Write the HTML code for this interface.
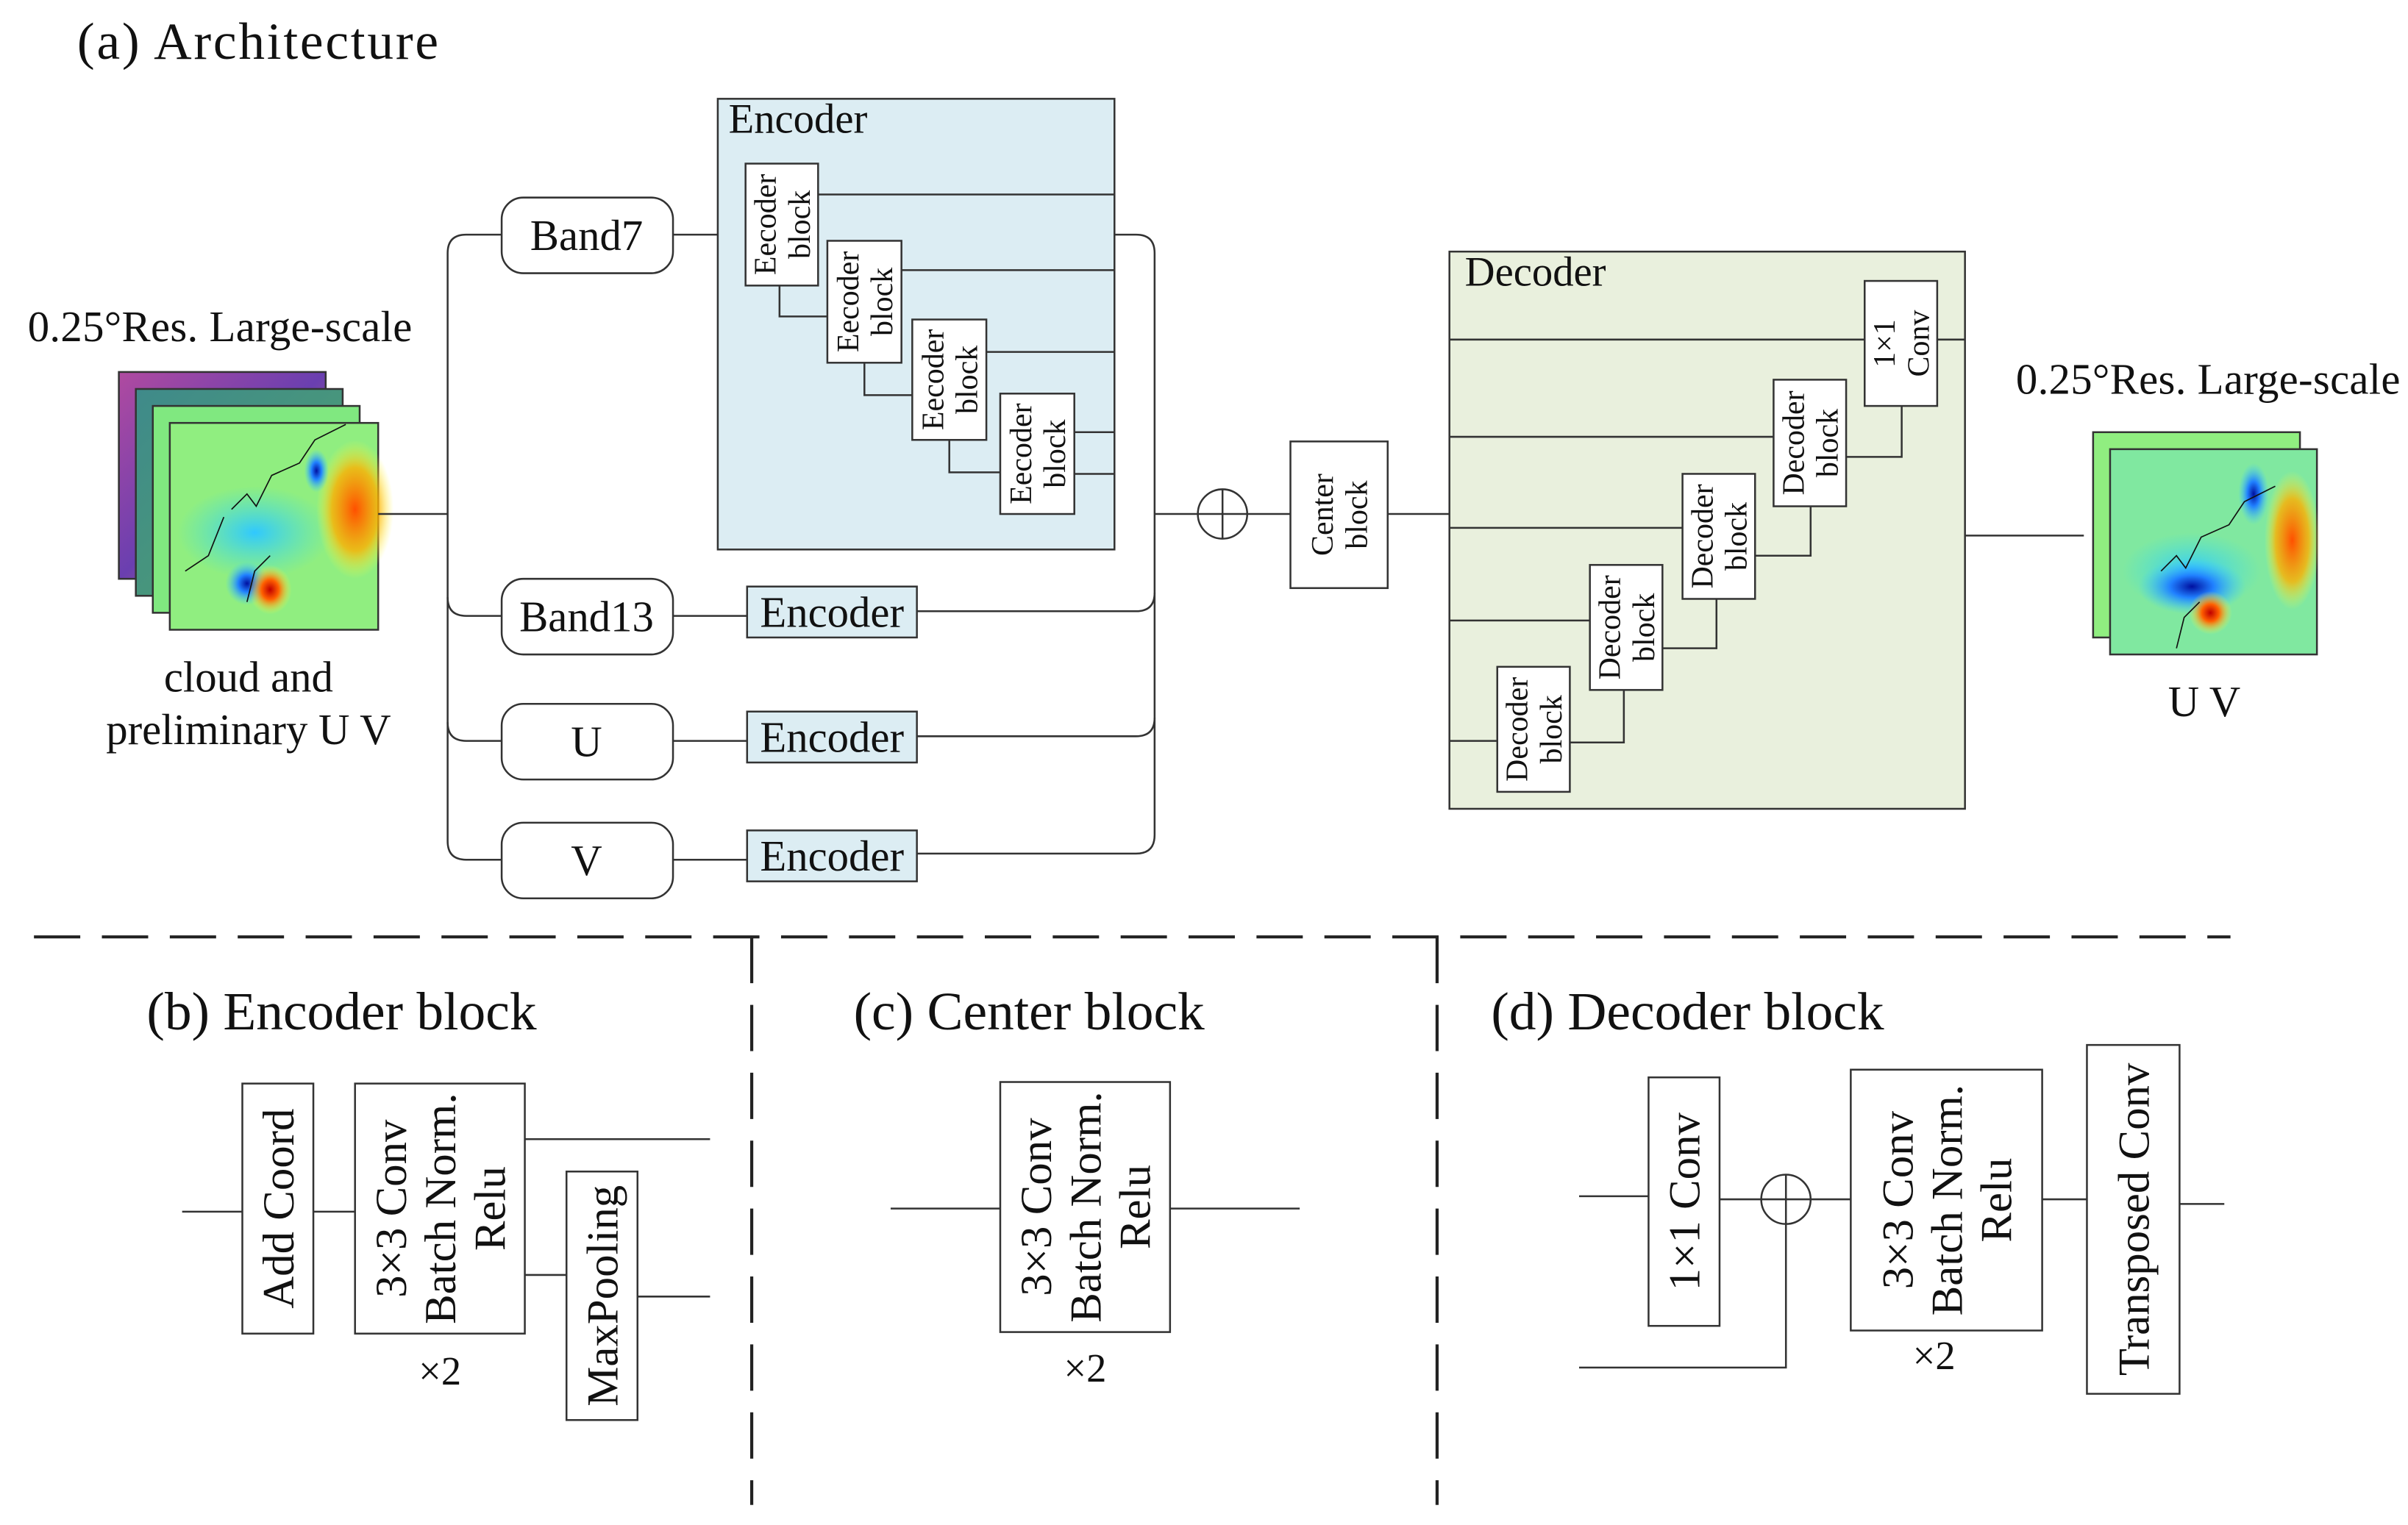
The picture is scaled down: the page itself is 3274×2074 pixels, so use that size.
<!DOCTYPE html>
<html><head><meta charset="utf-8"><style>
html,body{margin:0;padding:0;background:#fff;}
svg{display:block;}
text{font-family:"Liberation Serif",serif;fill:#111;}
</style></head><body>
<svg width="3274" height="2074" viewBox="0 0 1560 988" preserveAspectRatio="none" xmlns="http://www.w3.org/2000/svg">
<defs>
<linearGradient id="gp" x1="0" y1="0" x2="1" y2="1"><stop offset="0" stop-color="#b04aa0"/><stop offset="0.5" stop-color="#6a3fb0"/><stop offset="1" stop-color="#e08050"/></linearGradient>
<linearGradient id="gt" x1="0" y1="0" x2="1" y2="1"><stop offset="0" stop-color="#3f8a8a"/><stop offset="1" stop-color="#4fa070"/></linearGradient>
<radialGradient id="rr" cx="0.5" cy="0.5" r="0.5"><stop offset="0" stop-color="#c00000"/><stop offset="0.4" stop-color="#ff6000"/><stop offset="1" stop-color="#ffff40" stop-opacity="0"/></radialGradient>
<radialGradient id="rb" cx="0.5" cy="0.5" r="0.5"><stop offset="0" stop-color="#0010a0"/><stop offset="0.4" stop-color="#2080ff"/><stop offset="1" stop-color="#40d0ff" stop-opacity="0"/></radialGradient>
<radialGradient id="ro" cx="0.5" cy="0.5" r="0.5"><stop offset="0" stop-color="#ff5000"/><stop offset="0.6" stop-color="#ffb000" stop-opacity="0.8"/><stop offset="1" stop-color="#ffff40" stop-opacity="0"/></radialGradient>
<radialGradient id="rc" cx="0.5" cy="0.5" r="0.5"><stop offset="0" stop-color="#30c8ff"/><stop offset="1" stop-color="#40e0e0" stop-opacity="0"/></radialGradient>
</defs>
<g stroke="#333" stroke-width="1.2" fill="none">
<rect x="77" y="241" width="134" height="134" fill="url(#gp)"/>
<rect x="88" y="252" width="134" height="134" fill="url(#gt)"/>
<rect x="99" y="263" width="134" height="134" fill="#80e880"/>
<rect x="110" y="274" width="135" height="134" fill="#90ee80"/>
</g>
<ellipse cx="165" cy="345" rx="50" ry="30" fill="url(#rc)"/>
<ellipse cx="230" cy="330" rx="25" ry="45" fill="url(#ro)"/>
<ellipse cx="160" cy="378" rx="14" ry="14" fill="url(#rb)"/>
<ellipse cx="175" cy="382" rx="14" ry="16" fill="url(#rr)"/>
<ellipse cx="205" cy="305" rx="8" ry="14" fill="url(#rb)"/>
<path d="M150 330 l10 -10 l6 8 l10 -20 l18 -8 l10 -15 l20 -10 M160 390 l5 -20 l10 -10 M120 370 l15 -10 l10 -25" stroke="#111" stroke-width="0.8" fill="none"/>
<g stroke="#333" stroke-width="1.2">
<rect x="1356" y="280" width="134" height="133" fill="#90ee80"/>
<rect x="1367" y="291" width="134" height="133" fill="#80e8a0"/>
</g>
<ellipse cx="1420" cy="370" rx="45" ry="25" fill="url(#rc)"/>
<ellipse cx="1420" cy="380" rx="35" ry="18" fill="url(#rb)"/>
<ellipse cx="1485" cy="350" rx="18" ry="45" fill="url(#ro)"/>
<ellipse cx="1432" cy="397" rx="14" ry="14" fill="url(#rr)"/>
<ellipse cx="1460" cy="320" rx="10" ry="20" fill="url(#rb)"/>
<path d="M1400 370 l10 -10 l6 8 l10 -20 l18 -8 l10 -15 l20 -10 M1410 420 l5 -20 l10 -10" stroke="#111" stroke-width="0.8" fill="none"/>

<text x="50" y="38" font-size="34" textLength="234">(a)  Architecture</text>
<text x="18" y="221" font-size="28" textLength="249">0.25°Res. Large-scale</text>
<text x="161" y="448" font-size="28" text-anchor="middle">cloud and</text>
<text x="161" y="482" font-size="28" text-anchor="middle">preliminary U V</text>
<text x="1306" y="255" font-size="28" textLength="249">0.25°Res. Large-scale</text>
<text x="1428" y="464" font-size="28" text-anchor="middle">U V</text>

<g stroke="#333" stroke-width="1.2" fill="none">
<rect x="465" y="64" width="257" height="292" fill="#dcedf3"/>
<rect x="939" y="163" width="334" height="361" fill="#e9f0dd"/>
<path d="M245 333 H290"/>
<path d="M325 152 H302 Q290 152 290 164 V545 Q290 557 302 557 H325"/>
<path d="M290 387 Q290 399 302 399 H325"/>
<path d="M290 468 Q290 480 302 480 H325"/>
<rect x="325" y="128" width="111" height="49" rx="14" fill="#fff"/>
<rect x="325" y="375" width="111" height="49" rx="14" fill="#fff"/>
<rect x="325" y="456" width="111" height="49" rx="14" fill="#fff"/>
<rect x="325" y="533" width="111" height="49" rx="14" fill="#fff"/>
<path d="M436 152 H465 M436 399 H484 M436 480 H484 M436 557 H484"/>
<rect x="484" y="380" width="110" height="33" fill="#dcedf3"/>
<rect x="484" y="461" width="110" height="33" fill="#dcedf3"/>
<rect x="484" y="538" width="110" height="33" fill="#dcedf3"/>
<path d="M722 152 H736 Q748 152 748 164 V541 Q748 553 736 553 H594"/>
<path d="M594 396 H736 Q748 396 748 384"/>
<path d="M594 477 H736 Q748 477 748 465"/>
<path d="M748 333 H776"/>
<circle cx="792" cy="333" r="16" fill="#fff"/>
<path d="M792 317 V349 M776 333 H808"/>
<path d="M808 333 H836"/>
<rect x="836" y="286" width="63" height="95" fill="#fff"/>
<path d="M899 333 H939"/>
<path d="M1273 347 H1350"/>
<rect x="483" y="106" width="47" height="79" fill="#fff"/>
<rect x="536" y="156" width="48" height="79" fill="#fff"/>
<rect x="591" y="207" width="48" height="78" fill="#fff"/>
<rect x="648" y="255" width="48" height="78" fill="#fff"/>
<path d="M530 126 H722 M584 175 H722 M639 228 H722 M696 307 H722 M696 280 H722"/>
<path d="M505 185 V205 H536 M560 235 V256 H591 M615 285 V306 H648"/>
<rect x="1208" y="182" width="47" height="81" fill="#fff"/>
<rect x="1149" y="246" width="47" height="82" fill="#fff"/>
<rect x="1090" y="307" width="47" height="81" fill="#fff"/>
<rect x="1030" y="366" width="47" height="81" fill="#fff"/>
<rect x="970" y="432" width="47" height="81" fill="#fff"/>
<path d="M939 220 H1208 M1255 220 H1273 M939 283 H1149 M939 342 H1090 M939 402 H1030 M939 480 H970"/>
<path d="M1017 481 H1052 V447 M1077 420 H1112 V388 M1137 360 H1173 V328 M1196 296 H1232 V263"/>
</g>
<text x="472" y="86" font-size="27">Encoder</text>
<text x="949" y="185" font-size="27">Decoder</text>
<g font-size="28" text-anchor="middle">
<text x="380" y="162">Band7</text>
<text x="380" y="409">Band13</text>
<text x="380" y="490">U</text>
<text x="380" y="567">V</text>
<text x="539" y="406">Encoder</text>
<text x="539" y="487">Encoder</text>
<text x="539" y="564">Encoder</text>
</g>
<g font-size="20" text-anchor="middle">
<text transform="translate(506.5,145.5) rotate(-90)"><tspan x="0" y="-4">Eecoder</tspan><tspan x="0" y="18">block</tspan></text>
<text transform="translate(560,195.5) rotate(-90)"><tspan x="0" y="-4">Eecoder</tspan><tspan x="0" y="18">block</tspan></text>
<text transform="translate(615,246) rotate(-90)"><tspan x="0" y="-4">Eecoder</tspan><tspan x="0" y="18">block</tspan></text>
<text transform="translate(672,294) rotate(-90)"><tspan x="0" y="-4">Eecoder</tspan><tspan x="0" y="18">block</tspan></text>
<text transform="translate(867.5,333.5) rotate(-90)"><tspan x="0" y="-4">Center</tspan><tspan x="0" y="18">block</tspan></text>
<text transform="translate(1231.5,222.5) rotate(-90)"><tspan x="0" y="-4">1×1</tspan><tspan x="0" y="18">Conv</tspan></text>
<text transform="translate(1172.5,287) rotate(-90)"><tspan x="0" y="-4">Decoder</tspan><tspan x="0" y="18">block</tspan></text>
<text transform="translate(1113.5,347.5) rotate(-90)"><tspan x="0" y="-4">Decoder</tspan><tspan x="0" y="18">block</tspan></text>
<text transform="translate(1053.5,406.5) rotate(-90)"><tspan x="0" y="-4">Decoder</tspan><tspan x="0" y="18">block</tspan></text>
<text transform="translate(993.5,472.5) rotate(-90)"><tspan x="0" y="-4">Decoder</tspan><tspan x="0" y="18">block</tspan></text>
</g>

<g stroke="#222" stroke-width="2" stroke-dasharray="30,14" fill="none">
<path d="M22 607 H1445"/>
<path d="M487 607 V975"/>
<path d="M931 607 V975"/>
</g>

<g font-size="35">
<text x="95" y="667">(b) Encoder block</text>
<text x="553" y="667">(c) Center block</text>
<text x="966" y="667">(d) Decoder block</text>
</g>

<g stroke="#333" stroke-width="1.2" fill="#fff">
<rect x="157" y="702" width="46" height="162"/>
<rect x="230" y="702" width="110" height="162"/>
<rect x="367" y="759" width="46" height="161"/>
<rect x="648" y="701" width="110" height="162"/>
<rect x="1068" y="698" width="46" height="161"/>
<rect x="1199" y="693" width="124" height="169"/>
<rect x="1352" y="677" width="60" height="226"/>
</g>
<g stroke="#333" stroke-width="1.2" fill="none">
<path d="M118 785 H157 M203 785 H230 M340 738 H460 M340 826 H367 M413 840 H460"/>
<path d="M577 783 H648 M758 783 H842"/>
<path d="M1023 775 H1068 M1114 777 H1141 M1023 886 H1157 V793 M1173 777 H1199 M1323 777 H1352 M1412 780 H1441"/>
<circle cx="1157" cy="777" r="16" fill="#fff"/>
<path d="M1157 761 V793 M1141 777 H1173"/>
</g>
<g font-size="29" text-anchor="middle">
<text transform="translate(180,783) rotate(-90)" y="10">Add Coord</text>
<text transform="translate(285,783) rotate(-90)"><tspan x="0" y="-22">3×3 Conv</tspan><tspan x="0" y="10">Batch Norm.</tspan><tspan x="0" y="42">Relu</tspan></text>
<text transform="translate(390,839.5) rotate(-90)" y="10">MaxPooling</text>
<text transform="translate(703,782) rotate(-90)"><tspan x="0" y="-22">3×3 Conv</tspan><tspan x="0" y="10">Batch Norm.</tspan><tspan x="0" y="42">Relu</tspan></text>
<text transform="translate(1091,778.5) rotate(-90)" y="10">1×1 Conv</text>
<text transform="translate(1261,777.5) rotate(-90)"><tspan x="0" y="-22">3×3 Conv</tspan><tspan x="0" y="10">Batch Norm.</tspan><tspan x="0" y="42">Relu</tspan></text>
<text transform="translate(1382,790) rotate(-90)" y="10">Transposed Conv</text>
</g>
<g font-size="26" text-anchor="middle">
<text x="285" y="897">×2</text>
<text x="703" y="895">×2</text>
<text x="1253" y="887">×2</text>
</g>
</svg>
</body></html>
